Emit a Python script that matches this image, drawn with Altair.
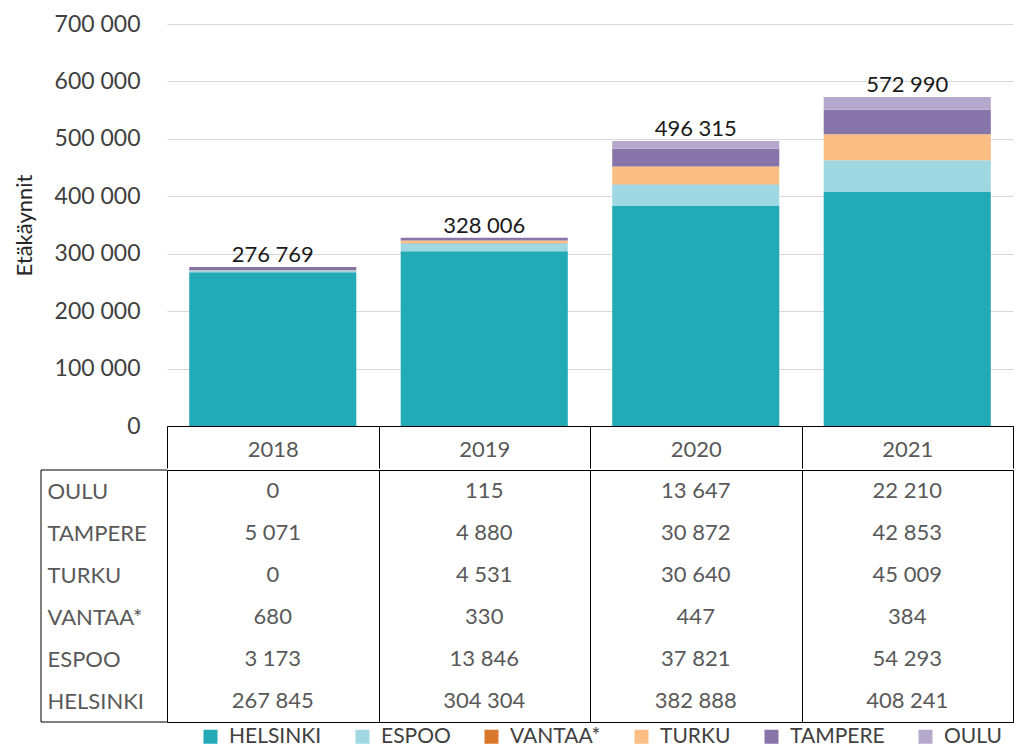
import altair as alt
import pandas as pd

# ---- data ----
years = ["2018", "2019", "2020", "2021"]
cities = ["HELSINKI", "ESPOO", "VANTAA*", "TURKU", "TAMPERE", "OULU"]
helsinki = [267845, 304304, 382888, 408241]
espoo = [3173, 13846, 37821, 54293]
vantaa = [680, 330, 447, 384]
turku = [0, 4531, 30640, 45009]
tampere = [5071, 4880, 30872, 42853]
oulu = [0, 115, 13647, 22210]
colors = ["#22aab6", "#9fd8e2", "#d9772b", "#fbbf85", "#8774a9", "#b4a8cc"]
table_rows = ["OULU", "TAMPERE", "TURKU", "VANTAA*", "ESPOO", "HELSINKI"]
y_ticks = [0, 100000, 200000, 300000, 400000, 500000, 600000, 700000]

series = dict(zip(cities, [helsinki, espoo, vantaa, turku, tampere, oulu]))
records = []
for ci, c in enumerate(cities):
    for yi, yr in enumerate(years):
        records.append({"year": yr, "city": c, "value": series[c][yi], "order": ci})
df = pd.DataFrame(records)

FONT = "Lato"
W = 846
H = 402
TH = 252

xscale = alt.Scale(domain=years, paddingInner=0, paddingOuter=0)
yscale = alt.Scale(domain=[0, 700000], nice=False)

x_top = alt.X(
    "year:N", sort=years, scale=xscale,
    axis=alt.Axis(
        title=None, orient="bottom", domainColor="black", domainWidth=1,
        tickBand="extent", tickColor="black", tickSize=42, tickWidth=1,
        labelPadding=-29, labelFont=FONT, labelFontSize=22, labelColor="#595959",
        labelAngle=0, labelBaseline="top", grid=False,
    ),
)
y_top = alt.Y(
    "value:Q", scale=yscale, stack="zero",
    axis=alt.Axis(
        title="Etäkäynnit", values=y_ticks, format=",d", grid=True,
        gridColor="#d9d9d9", gridWidth=1, domain=False, ticks=False,
        labelPadding=27, labelFont=FONT, labelFontSize=23, labelColor="#404040",
        titleFont=FONT, titleFontSize=22, titleFontWeight="normal",
        titleColor="#262626", titlePadding=18,
    ),
)

bars = alt.Chart(df).mark_bar(width={"band": 0.79}).encode(
    x=x_top,
    y=y_top,
    color=alt.Color(
        "city:N", scale=alt.Scale(domain=cities, range=colors),
        legend=alt.Legend(
            title=None, orient="none", direction="horizontal", columns=6,
            legendX=33, legendY=702, symbolType="square", symbolSize=196,
            symbolStrokeWidth=0, labelFont=FONT, labelFontSize=21,
            labelColor="#404040", columnPadding=30, labelOffset=8,
        ),
    ),
    order=alt.Order("order:Q", sort="ascending"),
)

totals = alt.Chart(df).transform_aggregate(
    total="sum(value)", groupby=["year"]
).mark_text(font=FONT, fontSize=22, color="#1a1a1a", baseline="alphabetic", dy=-5).encode(
    x=alt.X("year:N", sort=years, scale=xscale),
    y=alt.Y("total:Q", scale=yscale),
    text=alt.Text("total:Q", format=",d"),
)

top = alt.layer(bars, totals).properties(
    width=W, height=H, view=alt.ViewBackground(strokeWidth=0)
)

cells = alt.Chart(df).mark_text(font=FONT, fontSize=22, color="#595959").encode(
    x=alt.X(
        "year:N", sort=years, scale=xscale,
        axis=alt.Axis(
            title=None, orient="top", labels=False, ticks=False, domain=False,
            grid=True, gridColor="black", gridWidth=1, tickBand="extent",
        ),
    ),
    y=alt.Y(
        "city:N", sort=table_rows,
        scale=alt.Scale(domain=table_rows, paddingInner=0, paddingOuter=0),
        axis=alt.Axis(
            title=None, labelAlign="left", labelPadding=120, ticks=False,
            tickSize=0, domain=False, grid=False, labelFont=FONT,
            labelFontSize=22, labelColor="#595959",
        ),
    ),
    text=alt.Text("value:Q", format=",d"),
)

frame = alt.Chart(pd.DataFrame({"k": [0]})).mark_rule(color="black", strokeWidth=1)
rule_top = frame.encode(x=alt.value(-126), x2=alt.value(0), y=alt.value(0))
rule_bottom = frame.encode(x=alt.value(-126), x2=alt.value(0), y=alt.value(TH))
rule_left = frame.encode(x=alt.value(-126), y=alt.value(0), y2=alt.value(TH))

table = alt.layer(cells, rule_top, rule_bottom, rule_left).properties(
    width=W, height=TH, view=alt.ViewBackground(stroke="black", strokeWidth=1)
)

chart = alt.vconcat(top, table, spacing=0).resolve_scale(
    color="shared"
).resolve_legend(color="shared").properties(
    padding={"left": 5, "top": 5, "right": 0, "bottom": 0}
).configure(
    locale={"number": {"decimal": ",", "thousands": "\u00a0", "grouping": [3],
                       "currency": ["", "\u00a0€"]}}
)

chart.save("out.html", embed_options={"renderer": "svg", "actions": False})
